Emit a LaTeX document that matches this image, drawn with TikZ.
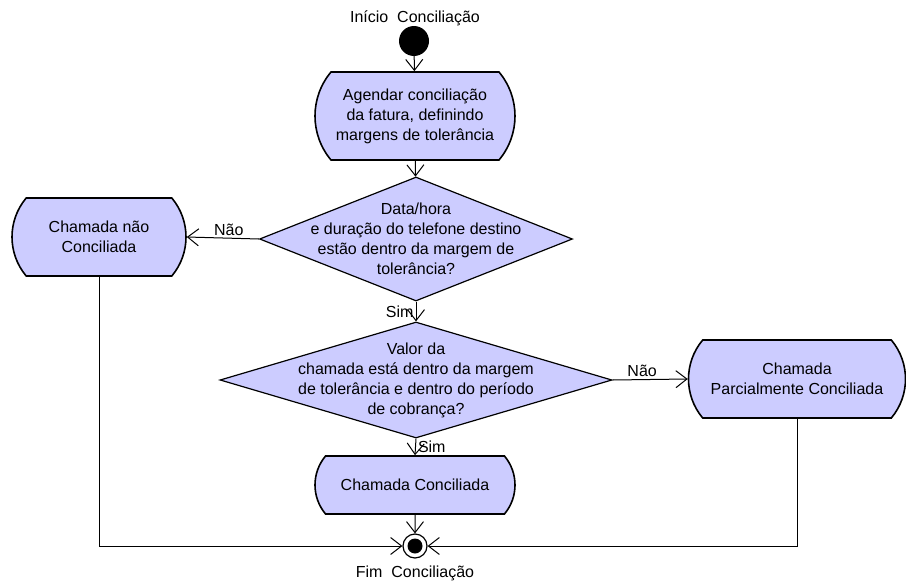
\documentclass[tikz,border=0pt]{standalone}
\usepackage{fontspec}
\setmainfont{Liberation Sans}
\usetikzlibrary{arrows.meta,shapes.geometric,shapes.misc}
\definecolor{actFill}{RGB}{204,204,255}

\begin{document}
\begin{tikzpicture}[x=1pt,y=-1pt,
  every node/.style={font=\fontsize{16}{20}\selectfont},
  action/.style={rounded rectangle,rounded rectangle arc length=80,draw,line width=1.6pt,fill=actFill,align=center,inner sep=0pt},
  decision/.style={diamond,draw,line width=1.2pt,fill=actFill,inner sep=0pt},
  flow/.style={line width=1pt,-{Straight Barb[length=11pt,width=17pt]}},
  guard/.style={inner sep=2pt}]
  \useasboundingbox (0,0) rectangle (906,581);

  % start / end states
  \node[circle,fill,minimum size=30pt,inner sep=0pt] (ini) at (414,41) {};
  \node (iniLbl) at (415,18) {Início\ \ Conciliação};
  \node[circle,draw,line width=1.2pt,fill=white,minimum size=24pt,inner sep=0pt] (fim) at (415,546) {};
  \fill (fim.center) circle (7.5pt);
  \node (fimLbl) at (415,573) {Fim\ \ Conciliação};

  % actions
  \node[action,minimum width=200pt,minimum height=88pt] (agendar) at (415,116)
    {Agendar conciliação\\ da fatura, definindo\\margens de tolerância};
  \node[action,minimum width=174pt,minimum height=78pt] (naoConc) at (99,237)
    {Chamada não\\Conciliada};
  \node[action,minimum width=217pt,minimum height=78pt] (parcial) at (797,379)
    {Chamada\\Parcialmente Conciliada};
  \node[action,minimum width=200pt,minimum height=58pt] (conc) at (415,485)
    {Chamada Conciliada};

  % decisions
  \node[decision,minimum width=313pt,minimum height=124pt] (dataHora) at (416,239) {};
  \node[align=center] (dataHoraTxt) at (dataHora.center)
    {Data/hora\\e duração do telefone destino\\estão dentro da margem de\\tolerância?};
  \node[decision,minimum width=392pt,minimum height=116pt] (valor) at (416,380) {};
  \node[align=center] (valorTxt) at (valor.center)
    {Valor da\\chamada está dentro da margem\\de tolerância e dentro do período\\de cobrança?};

  % flows
  \draw[flow] (ini) -- (agendar);
  \draw[flow] (agendar) -- (dataHora);
  \draw[flow] (dataHora.west) -- node[guard,above,xshift=6pt] {Não} (naoConc.east);
  \draw[flow] (dataHora.south) -- node[guard,left] {Sim} (valor.north);
  \draw[flow] (valor.east) -- node[guard,above,xshift=-8pt] {Não} (parcial.west);
  \draw[flow] (valor.south) -- node[guard,right] {Sim} (conc.north);
  \draw[flow] (conc) -- (fim);
  \draw[flow] (naoConc.south) |- (fim.west);
  \draw[flow] (parcial.south) |- (fim.east);
\end{tikzpicture}
\end{document}
